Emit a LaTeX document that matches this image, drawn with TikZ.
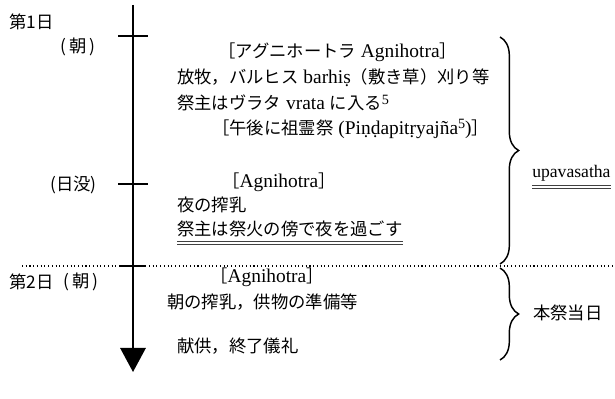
\documentclass[tikz,border=0pt]{standalone}
\usepackage{fontspec}
\setmainfont[Scale=1.12]{Liberation Serif}
\newfontfamily\jp{Noto Sans CJK JP}
\usetikzlibrary{arrows.meta,decorations.pathreplacing,calc}
\newcommand{\supfive}{\raisebox{0.6ex}{\fontsize{9.5}{10}\selectfont 5}}
\begin{document}
\begin{tikzpicture}[x=0.75pt,y=-0.75pt,
  txt/.style={inner sep=0pt, anchor=west, font=\fontsize{13}{15}\selectfont},
  axisline/.style={line width=1.5pt, -{Triangle[width=19pt,length=18pt]}},
  tickline/.style={line width=1.3pt},
  dotline/.style={line width=0.8pt, dotted},
  brc/.style={line width=1.1pt, decorate, decoration={brace, amplitude=14pt}},
  uline/.style={line width=0.6pt, black!75}]
\useasboundingbox (0,0) rectangle (615,399);

% axis
\coordinate (top) at (133,5);
\coordinate (bot) at (133,372);
\draw[axisline] (top) -- (bot);
\coordinate (t1l) at (118,36); \coordinate (t1r) at (148,36);
\coordinate (t2l) at (118,184); \coordinate (t2r) at (148,184);
\coordinate (t3l) at (120,266); \coordinate (t3r) at (146,266);
\draw[tickline] (t1l) -- (t1r);
\draw[tickline] (t2l) -- (t2r);
\draw[tickline] (t3l) -- (t3r);
\coordinate (dl) at (22,266); \coordinate (dr) at (613,266);
\draw[dotline] (dl) -- (dr);

% left labels
\node[txt] (d1) at (9,22) {\jp 第1日};
\node[txt] (m1) at (60,47) {\jp (\,朝\,)};
\node[txt] (m2) at (50,185) {\jp (日没)};
\node[txt] (d2) at (9,282) {\jp 第2日};
\node[txt] (m3) at (63,282) {\jp (\,朝\,)};

% day 1
\node[txt] (a1) at (218,52) {{\jp ［アグニホートラ} Agnihotra{\jp ］}};
\node[txt] (l1) at (177,78) {{\jp 放牧，バルヒス} barhiṣ{\jp （敷き草）刈り等}};
\node[txt] (l2) at (177,103) {{\jp 祭主はヴラタ} vrata {\jp に入る}\supfive};
\node[txt] (l3) at (212,129) {{\jp ［午後に祖霊祭} (Piṇḍapitṛyajña\supfive){\jp ］}};
\node[txt] (a2) at (222,182) {{\jp ［}Agnihotra{\jp ］}};
\node[txt] (l4) at (177,205) {\jp 夜の搾乳};
\node[txt] (l5) at (177,229) {\jp 祭主は祭火の傍で夜を過ごす};
\draw[uline] ($(l5.south west)+(0,4)$) -- ($(l5.south east)+(0,4)$);
\draw[uline] ($(l5.south west)+(0,7)$) -- ($(l5.south east)+(0,7)$);

% day 2
\node[txt] (a3) at (210,277) {{\jp ［}Agnihotra{\jp ］}};
\node[txt] (l6) at (167,302) {\jp 朝の搾乳，供物の準備等};
\node[txt] (l7) at (177,346) {\jp 献供，終了儀礼};

% braces
\coordinate (b1t) at (500,37); \coordinate (b1b) at (500,264);
\draw[brc] (b1t) -- (b1b);
\coordinate (b2t) at (500,268); \coordinate (b2b) at (500,360);
\draw[brc] (b2t) -- (b2b);
\node[txt, font=\fontsize{11.8}{14}\selectfont] (up) at (532,173) {upavasatha};
\draw[uline] ($(up.south west)+(0,4)$) -- ($(up.south east)+(0,4)$);
\draw[uline] ($(up.south west)+(0,7)$) -- ($(up.south east)+(0,7)$);
\node[txt] (hs) at (533,313) {\jp 本祭当日};
\end{tikzpicture}
\end{document}
